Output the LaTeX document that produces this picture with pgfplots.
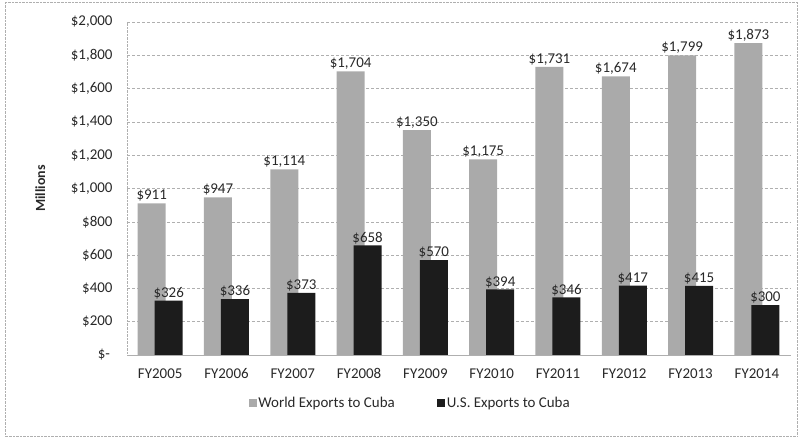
\documentclass[border=0pt]{standalone}
\usepackage{pgfplots}
\pgfplotsset{compat=1.18}
\usepackage{fontspec}
\setmainfont{Carlito}
\definecolor{worldgray}{RGB}{170,170,170}
\definecolor{usblack}{RGB}{28,28,28}
\definecolor{gridgray}{RGB}{175,175,175}
\definecolor{txt}{RGB}{40,40,40}

\begin{document}
\begin{tikzpicture}
\begin{axis}[
  width=663bp, height=333bp, scale only axis,
  xmin=-0.5, xmax=9.5, ymin=0, ymax=2000,
  ytick={0,200,...,2000},
  yticklabels={{\$-\,},{\$200},{\$400},{\$600},{\$800},{\$1,000},{\$1,200},{\$1,400},{\$1,600},{\$1,800},{\$2,000}},
  xtick={0,...,9},
  xticklabels={FY2005,FY2006,FY2007,FY2008,FY2009,FY2010,FY2011,FY2012,FY2013,FY2014},
  major tick length=0pt,
  axis x line*=bottom, axis y line*=left,
  x axis line style={gridgray, -},
  y axis line style={gridgray, densely dotted, -},
  ymajorgrids, grid style={gridgray, densely dashed},
  tick label style={font=\fontsize{15}{17}\selectfont, text=txt},
  yticklabel style={xshift=-11bp},
  xticklabel style={yshift=-10bp},
  ylabel={Millions},
  ylabel style={font=\fontsize{14}{16}\selectfont\bfseries, text=txt, at={(rel axis cs:-0.118,0.5)}, anchor=south, rotate=0},
  ybar, bar width=28bp,
  nodes near coords={\$\pgfmathprintnumber{\pgfplotspointmeta}},
  nodes near coords style={font=\fontsize{15}{17}\selectfont, text=txt, inner sep=1.5bp},
  /pgf/number format/1000 sep={,},
  /pgf/number format/assume math mode=true,
  legend columns=2,
  legend style={draw=none, fill=none, font=\fontsize{15}{17}\selectfont, text=txt,
    at={(rel axis cs:0.427,-0.144)}, anchor=center,
    /tikz/every even column/.append style={column sep=40bp}},
  legend image code/.code={\fill[#1] (0bp,-4bp) rectangle (8bp,4bp);},
  clip=false,
]
\addplot[fill=worldgray, draw=none, bar shift=-8.5bp] coordinates {
  (0,911) (1,947) (2,1114) (3,1704) (4,1350)
  (5,1175) (6,1731) (7,1674) (8,1799) (9,1873)
};
\addplot[fill=usblack, draw=none, bar shift=8.5bp] coordinates {
  (0,326) (1,336) (2,373) (3,658) (4,570)
  (5,394) (6,346) (7,417) (8,415) (9,300)
};
\legend{World Exports to Cuba, U.S. Exports to Cuba}
\draw[gridgray, densely dotted] (rel axis cs:-0.184,-0.243) rectangle (rel axis cs:1.0106,1.060);
\path (rel axis cs:-0.1916,-0.249) rectangle (rel axis cs:1.012,1.066);
\end{axis}
\end{tikzpicture}
\end{document}
